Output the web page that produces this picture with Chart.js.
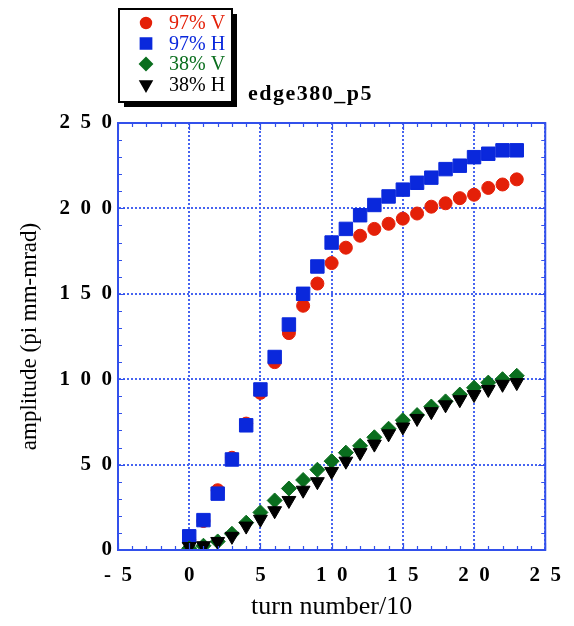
<!DOCTYPE html>
<html>
<head>
<meta charset="utf-8">
<script src="https://cdn.jsdelivr.net/npm/chart.js@4.4.1/dist/chart.umd.min.js"></script>
<style>
  html, body { margin: 0; padding: 0; background: #fff; }
</style>
</head>
<body>
<canvas id="amp" width="574" height="626"></canvas>
<script>
// turn number / 10
const turns = [0, 1, 2, 3, 4, 5, 6, 7, 8, 9, 10, 11, 12, 13, 14, 15, 16, 17, 18, 19, 20, 21, 22, 23];
const amp97V = [6, 17, 35, 54, 74, 92, 110, 127, 143, 156, 168, 177, 184, 188, 191, 194, 197, 201, 203, 206, 208, 212, 214, 217];
const amp97H = [8, 17.5, 33, 53, 73, 94, 113, 132, 150, 166, 180, 188, 196, 202, 207, 211, 215, 218, 223, 225, 230, 232, 234, 234];
const amp38V = [1, 2.5, 5, 9.5, 16, 22, 29, 36, 41, 47, 52, 57, 61, 66, 71, 76, 79, 84, 87, 91, 95, 98, 100, 102];
const amp38H = [2, 2.5, 5, 8, 14, 18, 23, 29, 35, 40, 46, 52, 57, 62, 68, 72, 77, 81, 85, 88, 91, 94, 97, 98];

const seriesLabels = ['97% V', '97% H', '38% V', '38% H'];
const xTicks = [-5, 0, 5, 10, 15, 20, 25];
const yTicks = [0, 50, 100, 150, 200, 250];

const RED = 'rgb(228, 32, 8)';
const BLUE = 'rgb(10, 40, 220)';
const GREEN = 'rgb(10, 110, 30)';
const BLACK = '#000';
const AXIS_BLUE = 'rgb(50, 80, 235)';
const GRID_BLUE = 'rgb(70, 100, 240)';
const SERIF = '"Liberation Serif", "DejaVu Serif", serif';

const pts = (ys) => turns.map((x, i) => ({ x: x, y: ys[i] }));
// old-style wide digit spacing: "1  0  0"
const spaced = (v) => String(v).split('').join('  ');

const styles = [
  { color: RED, pointStyle: 'circle', radius: 6.5, rotation: 0 },
  { color: BLUE, pointStyle: 'rect', radius: 9.5, rotation: 0 },
  { color: GREEN, pointStyle: 'rectRot', radius: 7.5, rotation: 0 },
  { color: BLACK, pointStyle: 'triangle', radius: 8, rotation: 180 },
];
const seriesData = [amp97V, amp97H, amp38V, amp38H];

// frame, inward minor ticks, legend box and plot title
const decorations = {
  id: 'decorations',
  afterDatasetsDraw(chart) {
    const { ctx, chartArea: a, scales: { x, y } } = chart;
    ctx.save();
    ctx.strokeStyle = AXIS_BLUE;
    ctx.lineWidth = 2;
    ctx.strokeRect(a.left, a.top, a.right - a.left, a.bottom - a.top);
    ctx.lineWidth = 1.2;
    ctx.beginPath();
    for (let v = -5; v <= 25; v++) {
      const px = Math.round(x.getPixelForValue(v)) + 0.5;
      const len = v % 5 === 0 ? 7 : 4;
      ctx.moveTo(px, a.bottom); ctx.lineTo(px, a.bottom - len);
      ctx.moveTo(px, a.top); ctx.lineTo(px, a.top + len);
    }
    for (let v = 0; v <= 250; v += 10) {
      const py = Math.round(y.getPixelForValue(v)) + 0.5;
      const len = v % 50 === 0 ? 7 : 4;
      ctx.moveTo(a.left, py); ctx.lineTo(a.left + len, py);
      ctx.moveTo(a.right, py); ctx.lineTo(a.right - len, py);
    }
    ctx.stroke();
    ctx.restore();
  },
  afterDraw(chart) {
    const ctx = chart.ctx;
    ctx.save();
    // legend with drop shadow
    const bx = 119, by = 9, bw = 113, bh = 93;
    ctx.fillStyle = '#000';
    ctx.fillRect(bx + 5, by + 5, bw, bh);
    ctx.fillStyle = '#fff';
    ctx.fillRect(bx, by, bw, bh);
    ctx.strokeStyle = '#000';
    ctx.lineWidth = 2;
    ctx.strokeRect(bx, by, bw, bh);
    ctx.font = '20px ' + SERIF;
    ctx.textBaseline = 'middle';
    ctx.textAlign = 'left';
    styles.forEach((s, i) => {
      const ry = 23 + i * 20.5;
      ctx.fillStyle = s.color;
      ctx.strokeStyle = s.color;
      Chart.helpers.drawPoint(ctx, { pointStyle: s.pointStyle, radius: s.radius * 0.8, rotation: s.rotation, borderWidth: 1 }, 146, ry);
      ctx.fillStyle = s.color;
      ctx.fillText(seriesLabels[i], 169, ry + 1);
    });
    // plot title
    ctx.fillStyle = '#000';
    ctx.font = 'bold 22px ' + SERIF;
    ctx.letterSpacing = '1.5px';
    ctx.textBaseline = 'alphabetic';
    ctx.fillText('edge380_p5', 248, 100);
    ctx.restore();
  }
};

new Chart(document.getElementById('amp'), {
  type: 'scatter',
  data: {
    datasets: seriesData.map((ys, i) => ({
      label: seriesLabels[i],
      data: pts(ys),
      order: 4 - i,
      pointStyle: styles[i].pointStyle,
      pointRotation: styles[i].rotation,
      pointRadius: styles[i].radius,
      pointBackgroundColor: styles[i].color,
      pointBorderColor: styles[i].color,
      pointBorderWidth: 1,
      showLine: false,
    })),
  },
  options: {
    responsive: false,
    animation: false,
    events: [],
    layout: { padding: { top: 123, right: 23, left: 0, bottom: 0 } },
    plugins: {
      legend: { display: false },
      tooltip: { enabled: false },
      title: { display: false },
    },
    scales: {
      x: {
        type: 'linear',
        min: -5,
        max: 25,
        afterFit: (scale) => { scale.height = 76; },
        afterBuildTicks: (scale) => { scale.ticks = xTicks.map((v) => ({ value: v })); },
        ticks: {
          padding: 13,
          color: '#000',
          font: { family: SERIF, size: 21, weight: 'bold' },
          callback: (v) => spaced(v),
        },
        grid: { color: GRID_BLUE, lineWidth: 2, drawTicks: false },
        border: { color: AXIS_BLUE, width: 2, dash: [2, 2] },
        title: {
          display: true,
          text: 'turn number/10',
          color: '#000',
          font: { family: SERIF, size: 26 },
          padding: { top: 0, bottom: 3 },
        },
      },
      y: {
        type: 'linear',
        min: 0,
        max: 250,
        afterFit: (scale) => { scale.width = 118; },
        afterBuildTicks: (scale) => { scale.ticks = yTicks.map((v) => ({ value: v })); },
        ticks: {
          padding: 6,
          color: '#000',
          font: { family: SERIF, size: 21, weight: 'bold' },
          callback: (v) => spaced(v),
        },
        grid: { color: GRID_BLUE, lineWidth: 2, drawTicks: false },
        border: { color: AXIS_BLUE, width: 2, dash: [2, 2] },
        title: {
          display: true,
          text: 'amplitude (pi mm-mrad)',
          color: '#000',
          font: { family: SERIF, size: 23 },
          padding: { top: 16, bottom: 0 },
        },
      },
    },
  },
  plugins: [decorations],
});
</script>
</body>
</html>
